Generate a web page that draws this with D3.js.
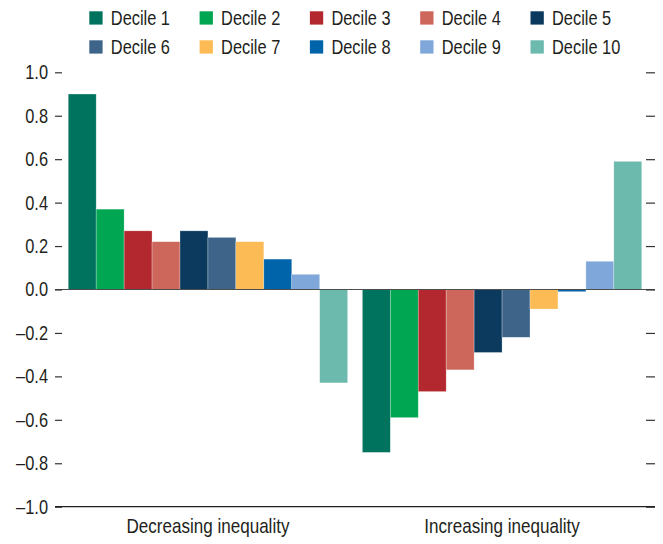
<!DOCTYPE html>
<html>
<head>
<meta charset="utf-8">
<script src="https://cdn.jsdelivr.net/npm/d3@7"></script>
<style>
  html, body { margin: 0; padding: 0; background: #fff; }
  svg text { font-family: "Liberation Sans", Arial, sans-serif; fill: #231f20; }
</style>
</head>
<body>
<svg id="chart" width="663" height="544"></svg>
<script>
const categories = ["Decreasing inequality", "Increasing inequality"];
const deciles = ["Decile 1", "Decile 2", "Decile 3", "Decile 4", "Decile 5",
                 "Decile 6", "Decile 7", "Decile 8", "Decile 9", "Decile 10"];
const decreasingValues = [0.90, 0.37, 0.27, 0.22, 0.27, 0.24, 0.22, 0.14, 0.07, -0.43];
const increasingValues = [-0.75, -0.59, -0.47, -0.37, -0.29, -0.22, -0.09, -0.01, 0.13, 0.59];
const yTicks = [-1.0, -0.8, -0.6, -0.4, -0.2, 0.0, 0.2, 0.4, 0.6, 0.8, 1.0];
const colors = ["#00735f", "#00a651", "#b3282e", "#cd665b", "#0b3a5e",
                "#3e6489", "#fdbb56", "#0064aa", "#7fa7da", "#6cb9ad"];

(function () {
const NARROW = 0.82; // emulate a condensed face
const seriesByCategory = [decreasingValues, increasingValues];
const data = [];
categories.forEach((c, ci) => {
  deciles.forEach((d, di) => data.push({ category: c, decile: d, value: seriesByCategory[ci][di] }));
});

const svg = d3.select("#chart");
const mLeft = 55, mRight = 655, mTop = 72.3, mBottom = 506.7;

const x0 = d3.scaleBand().domain(categories).range([mLeft, mRight]).paddingInner(0.05).paddingOuter(0.045);
const x1 = d3.scaleBand().domain(deciles).range([0, x0.bandwidth()]).padding(0);
const y = d3.scaleLinear().domain([-1, 1]).range([mBottom, mTop]);
const color = d3.scaleOrdinal().domain(deciles).range(colors);

// bars
svg.append("g").selectAll("rect").data(data).join("rect")
  .attr("x", d => x0(d.category) + x1(d.decile))
  .attr("width", x1.bandwidth())
  .attr("y", d => y(Math.max(0, d.value)))
  .attr("height", d => Math.abs(y(d.value) - y(0)))
  .attr("fill", d => color(d.decile))
  .attr("stroke", "#ffffff")
  .attr("stroke-opacity", 0.45)
  .attr("stroke-width", 0.6);

// zero line
svg.append("line")
  .attr("x1", mLeft).attr("x2", mRight)
  .attr("y1", y(0)).attr("y2", y(0))
  .attr("stroke", "#4d4d4d").attr("stroke-width", 1.2);

// left axis
const fmt = v => d3.format(".1f")(v).replace("−", "–").replace("-", "–");
const gl = svg.append("g").attr("transform", `translate(62,0)`)
  .call(d3.axisLeft(y).tickValues(yTicks).tickSize(7).tickPadding(7).tickFormat(fmt));
gl.select(".domain").remove();
gl.selectAll(".tick line").attr("stroke", "#333").attr("stroke-width", 1.2);
gl.selectAll(".tick text")
  .style("font-size", "20px")
  .attr("fill", "#231f20")
  .attr("x", -14 / NARROW)
  .attr("transform", `scale(${NARROW},1)`);

// right axis
const gr = svg.append("g").attr("transform", `translate(646,0)`)
  .call(d3.axisRight(y).tickValues(yTicks).tickSize(9).tickFormat(""));
gr.select(".domain").remove();
gr.selectAll(".tick line").attr("stroke", "#333").attr("stroke-width", 1.2);

// bottom line
svg.append("line")
  .attr("x1", mLeft).attr("x2", mRight)
  .attr("y1", y(-1)).attr("y2", y(-1))
  .attr("stroke", "#231f20").attr("stroke-width", 1.3);

// category labels
svg.append("g").selectAll("text").data(categories).join("text")
  .attr("transform", d => `translate(${x0(d) + x0.bandwidth() / 2},533) scale(${NARROW},1)`)
  .attr("text-anchor", "middle")
  .style("font-size", "20.8px")
  .text(d => d);

// legend
const legend = svg.append("g").selectAll("g").data(deciles).join("g")
  .attr("transform", (d, i) => `translate(${89.3 + (i % 5) * 110.3},${(i < 5 ? 18 : 47)})`);
legend.append("rect")
  .attr("x", 0).attr("y", -6.7).attr("width", 13.3).attr("height", 13.3)
  .attr("fill", d => color(d));
legend.append("text")
  .attr("transform", `translate(21.5,0) scale(${NARROW},1)`)
  .attr("dy", "0.36em")
  .style("font-size", "20px")
  .text(d => d);
})();
</script>
</body>
</html>
